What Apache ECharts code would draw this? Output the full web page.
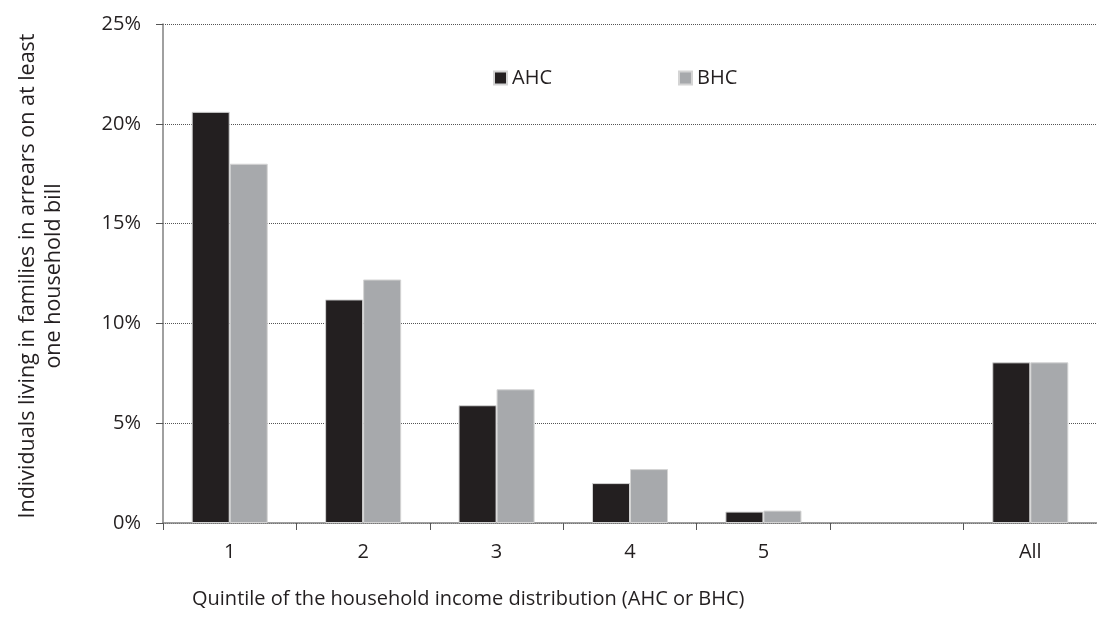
<!DOCTYPE html>
<html>
<head>
<meta charset="utf-8">
<script src="https://cdn.jsdelivr.net/npm/echarts@6/dist/echarts.min.js"></script>
<style>
html,body{margin:0;padding:0;background:#fff;overflow:hidden;}
#chart{width:1097px;height:618px;}
</style>
</head>
<body>
<div id="chart"></div>
<script>
var categories = ['1', '2', '3', '4', '5', '', 'All'];
var ahcValues = [20.6, 11.2, 5.9, 2.0, 0.57, null, 8.05];
var bhcValues = [18.0, 12.2, 6.7, 2.7, 0.62, null, 8.05];
var yTicks = [0, 5, 10, 15, 20, 25];
var seriesNames = ['AHC', 'BHC'];
var xTitle = 'Quintile of the household income distribution (AHC or BHC)';
var yTitle = ['Individuals living in families in arrears on at least', 'one household bill'];

var FONT = 'Open Sans';
var FS = 20;
var TEXT = '#231f20';
var chart = echarts.init(document.getElementById('chart'), null, {renderer: 'canvas'});
chart.setOption({
  animation: false,
  backgroundColor: '#ffffff',
  textStyle: {fontFamily: FONT},
  grid: {left: 163, right: -13, top: 24, bottom: 95},
  legend: [
    {data: [seriesNames[0]], left: 488, top: 63, icon: 'rect', itemWidth: 13, itemHeight: 13,
     textStyle: {fontFamily: FONT, fontSize: FS, color: TEXT}},
    {data: [seriesNames[1]], left: 673, top: 63, icon: 'rect', itemWidth: 13, itemHeight: 13,
     textStyle: {fontFamily: FONT, fontSize: FS, color: TEXT}}
  ],
  xAxis: {
    type: 'category',
    data: categories,
    boundaryGap: true,
    axisLine: {show: true, lineStyle: {color: '#808080', width: 1.5}},
    axisTick: {show: true, length: 7, alignWithLabel: false, lineStyle: {color: '#555', width: 1}},
    axisLabel: {margin: 19, fontFamily: FONT, fontSize: FS, color: TEXT, interval: 0},
    splitLine: {show: false}
  },
  yAxis: {
    type: 'value',
    min: yTicks[0],
    max: yTicks[yTicks.length - 1],
    interval: yTicks[1] - yTicks[0],
    axisLine: {show: true, lineStyle: {color: '#808080', width: 1.5}},
    axisTick: {show: true, length: 7, lineStyle: {color: '#555', width: 1}},
    axisLabel: {margin: 22, fontFamily: FONT, fontSize: FS, color: TEXT, formatter: '{value}%'},
    splitLine: {show: true, lineStyle: {color: '#555', type: 'dotted', width: 1}}
  },
  series: [
    {name: seriesNames[0], type: 'bar', data: ahcValues, barGap: '0%', barCategoryGap: '43%',
     itemStyle: {color: '#231f20', borderColor: '#d4d4d4', borderWidth: 1}},
    {name: seriesNames[1], type: 'bar', data: bhcValues, barGap: '0%', barCategoryGap: '43%',
     itemStyle: {color: '#a7a9ac', borderColor: '#d4d4d4', borderWidth: 1}}
  ],
  graphic: [
    {type: 'text', left: 192, top: 589, silent: true,
     style: {text: xTitle, font: FS + 'px "' + FONT + '"', fill: TEXT}},
    {type: 'text', x: 41, y: 276, rotation: Math.PI / 2, silent: true,
     style: {text: yTitle.join('\n'), font: '21.5px "' + FONT + '"', fill: TEXT,
             align: 'center', verticalAlign: 'middle', lineHeight: 26}}
  ]
});
</script>
</body>
</html>
